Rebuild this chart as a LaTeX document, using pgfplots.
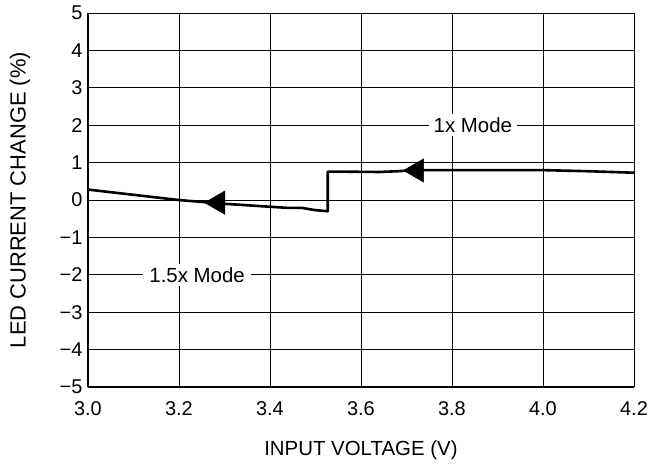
\documentclass[border=0pt]{standalone}
\usepackage{pgfplots}
\pgfplotsset{compat=1.18}
\usepackage{fontspec}
\setmainfont{Liberation Sans}

\begin{document}
\begin{tikzpicture}
	\begin{axis}[
		scale only axis,
		width=546bp, height=374bp,
		xmin=3.0, xmax=4.2,
		ymin=-5, ymax=5,
		xtick={3.0,3.2,3.4,3.6,3.8,4.0,4.2},
		xticklabels={3.0,3.2,3.4,3.6,3.8,4.0,4.2},
		ytick={-5,-4,-3,-2,-1,0,1,2,3,4,5},
		yticklabels={−5,−4,−3,−2,−1,0,1,2,3,4,5},
		grid=major,
		major grid style={black, line width=0.8bp},
		axis lines=left,
		axis line style={-, line width=1.8bp},
		major tick length=0pt,
		ticklabel style={font=\fontsize{20}{22}\selectfont},
		xticklabel style={yshift=-11bp},
		yticklabel style={xshift=-2bp},
		every axis x label/.style={at={(axis description cs:0.5,-0.168)}, anchor=center,
			font=\fontsize{20.5}{23}\selectfont},
		every axis y label/.style={at={(axis description cs:-0.1245,0.5)}, rotate=90, anchor=center,
			font=\fontsize{22}{24}\selectfont},
		xlabel={INPUT VOLTAGE (V)},
		ylabel={LED CURRENT CHANGE (\%)},
		clip=false,
		]
		
		% measured curve
		\addplot[black, line width=2.6bp, line join=round]
		coordinates
		{(3.0,0.28) (3.1,0.14) (3.2,0.0) (3.3,-0.1) (3.4,-0.18)
			(3.44,-0.21) (3.47,-0.21) (3.5,-0.27) (3.527,-0.30)
			(3.527,0.76) (3.55,0.76) (3.64,0.75) (3.68,0.77)
			(3.72,0.8) (3.9,0.8) (4.0,0.8) (4.1,0.77) (4.2,0.73)};
		
		% direction arrows
		\addplot[only marks, mark=triangle*, mark size=13.5bp,
			mark options={rotate=90, fill=black, draw=black}]
		coordinates
		{(3.286,-0.07) (3.723,0.79)};
		
		\node[fill=white, inner xsep=5bp, font=\fontsize{20.5}{23}\selectfont]
			at (axis cs:3.846,2) {1x Mode};
		\node[fill=white, inner xsep=6bp, font=\fontsize{20.5}{23}\selectfont]
			at (axis cs:3.24,-2) {1.5x Mode};
		
		% page margins as in the reference
		\path (axis description cs:-0.161,-0.2086) (axis description cs:1.033,1.0348);
	\end{axis}
\end{tikzpicture}
\end{document}
